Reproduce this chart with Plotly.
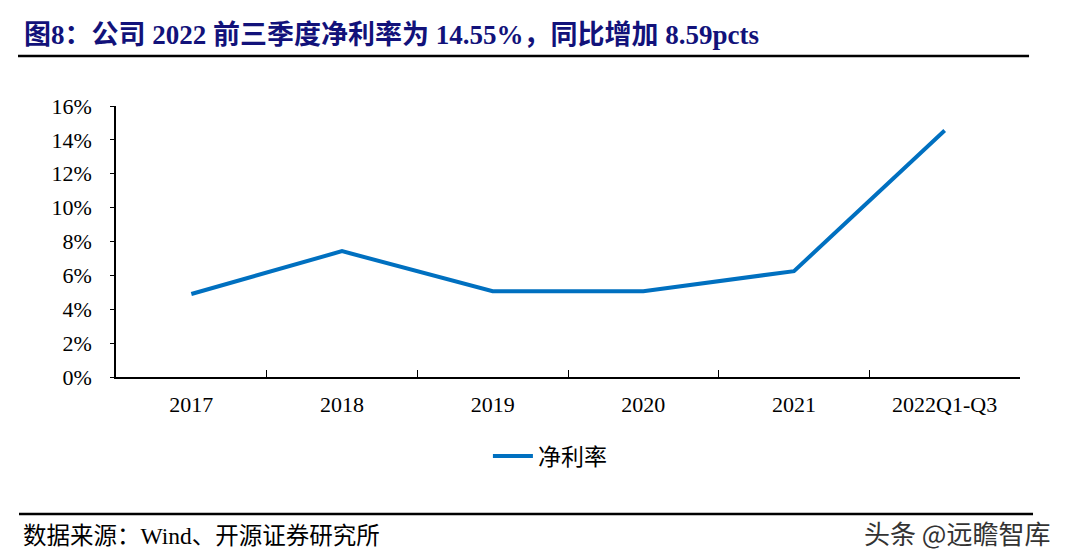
import plotly.graph_objects as go

# net margin by period
periods = ["2017", "2018", "2019", "2020", "2021", "2022Q1-Q3"]
net_margin = [0.049, 0.0743, 0.0507, 0.0507, 0.0625, 0.1455]
y_ticks = [0, 0.02, 0.04, 0.06, 0.08, 0.10, 0.12, 0.14, 0.16]

TITLE = "图8：公司 2022 前三季度净利率为 14.55%，同比增加 8.59pcts"
SOURCE = "数据来源：Wind、开源证券研究所"
MARK = "头条 @远瞻智库"

SERIF = "Liberation Serif, Noto Sans CJK SC"
BLUE = "#0070C0"
NAVY = "#12127A"

fig = go.Figure()
fig.add_trace(go.Scatter(
    x=periods, y=net_margin, mode="lines", name="净利率",
    line=dict(color=BLUE, width=4),
))

# the page body adds an 8px offset, so the figure is 8px smaller
fig.update_layout(
    width=1061, height=552,
    margin=dict(l=108, r=49, t=98, b=183),
    paper_bgcolor="white", plot_bgcolor="white",
    font=dict(family=SERIF, size=22, color="black"),
    showlegend=True,
    legend=dict(
        orientation="h", x=0.48, y=-0.2915, xanchor="center", yanchor="middle",
        font=dict(family="Noto Sans CJK SC", size=23, color="black"),
        itemwidth=40,
    ),
)

fig.update_xaxes(
    type="category", range=[-0.5, 5.5],
    showline=True, linecolor="black", linewidth=1.5,
    ticks="inside", tickson="boundaries", ticklen=7, tickcolor="black",
    showgrid=False, ticklabelstandoff=7,
)
fig.update_yaxes(
    range=[0, 0.16], tickvals=y_ticks, tickformat=".0%",
    showline=True, linecolor="black", linewidth=1.5,
    ticks="outside", ticklen=4, tickcolor="black",
    showgrid=False, zeroline=False, ticklabelstandoff=14,
)

# title and separator lines
fig.add_annotation(text="<b>" + TITLE + "</b>", xref="paper", yref="paper",
                   x=-0.104, y=1.262, xanchor="left", yanchor="middle",
                   showarrow=False, font=dict(family=SERIF, size=27, color=NAVY))
fig.add_shape(type="line", xref="paper", yref="paper",
              x0=-0.1084, x1=1.01, y0=1.1845, y1=1.1845,
              line=dict(color="black", width=2.5))
fig.add_shape(type="line", xref="paper", yref="paper",
              x0=-0.1073, x1=1.0144, y0=-0.5055, y1=-0.5055,
              line=dict(color="black", width=2.5))

# footer texts
fig.add_annotation(text=SOURCE, xref="paper", yref="paper",
                   x=-0.1051, y=-0.5867, xanchor="left", yanchor="middle",
                   showarrow=False, font=dict(family=SERIF, size=23.5, color="black"))
fig.add_annotation(text=MARK, xref="paper", yref="paper",
                   x=1.0354, y=-0.572, xanchor="right", yanchor="middle",
                   showarrow=False, font=dict(family="Noto Sans CJK SC", size=26, color="#333333"))

fig.write_html("out.html")
